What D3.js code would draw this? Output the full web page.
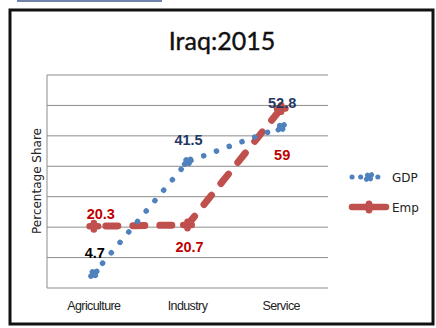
<!DOCTYPE html>
<html><head><meta charset="utf-8">
<script src="https://cdn.jsdelivr.net/npm/d3@7"></script>
<style>body{margin:0;background:#fff}svg{display:block}</style>
</head><body>
<svg id="c" width="436" height="328"></svg>
<script>
const categories = ["Agriculture", "Industry", "Service"];
const gdp = [4.7, 41.5, 52.8];
const emp = [20.3, 20.7, 59];
const yTicks = [0, 10, 20, 30, 40, 50, 60, 70];
const seriesNames = ["GDP", "Emp"];
const title = "Iraq:2015";
const yLabel = "Percentage Share";

const svg = d3.select("#c");
const blue = "#4f81bd", red = "#c0504d";

// top tab bar and frame
svg.append("rect").attr("x",17).attr("y",0).attr("width",145).attr("height",2).attr("fill","#7083ad");
svg.append("rect").attr("x",10).attr("y",10).attr("width",423).attr("height",314)
  .attr("fill","#fff").attr("stroke","#111").attr("stroke-width",3);

const x = d3.scaleBand().domain(categories).range([47, 328]);
const y = d3.scaleLinear().domain([0, 70]).range([288, 75]);
const cx = c => x(c) + x.bandwidth()/2;

// gridlines
svg.append("g").selectAll("line").data(yTicks).join("line")
  .attr("x1",47).attr("x2",328).attr("y1",d=>y(d)).attr("y2",d=>y(d))
  .attr("stroke","#8c8c8c").attr("stroke-width",1);
svg.append("line").attr("x1",47).attr("x2",47).attr("y1",y(70)).attr("y2",y(0)).attr("stroke","#8c8c8c");

// x axis labels
const xa = svg.append("g").attr("transform","translate(0,288)")
  .call(d3.axisBottom(x).tickSize(0).tickPadding(13));
xa.select(".domain").remove();
xa.selectAll("text").attr("font-family","'Liberation Sans', Arial, sans-serif")
  .attr("font-size",12.5).attr("letter-spacing",-0.6).attr("fill","#222");

// title
svg.append("text").attr("x",222).attr("y",50).attr("text-anchor","middle")
  .attr("font-family","Lato, 'Open Sans', sans-serif").attr("font-size",25).attr("fill","#111")
  .attr("stroke","#111").attr("stroke-width",0.4).text(title);

// y label
svg.append("text").attr("transform","translate(41,181) rotate(-90)").attr("text-anchor","middle")
  .attr("font-family","'DejaVu Sans', sans-serif").attr("font-size",12).attr("fill","#222").text(yLabel);

const line = d3.line().x((d,i)=>cx(categories[i])).y(d=>y(d));

// Emp line
svg.append("path").datum(emp).attr("d",line).attr("fill","none").attr("stroke",red)
  .attr("stroke-width",7).attr("stroke-linecap","round").attr("stroke-dasharray","12 15").attr("stroke-dashoffset",-12);
// GDP line
svg.append("path").datum(gdp).attr("d",line).attr("fill","none").attr("stroke",blue)
  .attr("stroke-width",5.5).attr("stroke-linecap","round").attr("stroke-dasharray","0.1 13.5");

function plus(g, px, py, col, w, h, t) {
  g.append("rect").attr("x",px-w/2).attr("y",py-t/2).attr("width",w).attr("height",t).attr("rx",t/2).attr("fill",col);
  g.append("rect").attr("x",px-t/2).attr("y",py-h/2).attr("width",t).attr("height",h).attr("rx",t/2).attr("fill",col);
}
const mk = svg.append("g");
emp.forEach((v,i)=>plus(mk, cx(categories[i]), y(v), red, 15, 13, 6.5));
gdp.forEach((v,i)=>{
  const px = cx(categories[i]), py = y(v);
  mk.append("g").attr("transform",`translate(${px},${py}) rotate(-40)`).call(g=>plus(g,0,0,blue,13,10,5.5));
});

// data labels
const lab = [
  {t:"20.3", x:cx(categories[0])+7, y:219, c:"#c00000"},
  {t:"4.7", x:cx(categories[0])+1, y:258, c:"#000"},
  {t:"41.5", x:cx(categories[1])+1, y:145, c:"#1f3864"},
  {t:"20.7", x:cx(categories[1])+2, y:252, c:"#c00000"},
  {t:"52.8", x:cx(categories[2])+1, y:108, c:"#1f3864"},
  {t:"59", x:cx(categories[2])+1, y:160, c:"#c00000"}
];
svg.append("g").selectAll("text").data(lab).join("text")
  .attr("x",d=>d.x).attr("y",d=>d.y).attr("text-anchor","middle")
  .attr("font-family","'Liberation Sans', Arial, sans-serif").attr("font-weight","bold")
  .attr("font-size",14.5).attr("fill",d=>d.c).text(d=>d.t);

// legend
const lg = svg.append("g");
[[0,blue],[1,red]].forEach(([i,col])=>{
  const ly = 177 + i*30;
  if (i===0) {
    lg.append("line").attr("x1",352).attr("x2",386).attr("y1",ly).attr("y2",ly).attr("stroke",col)
      .attr("stroke-width",5).attr("stroke-linecap","round").attr("stroke-dasharray","0.1 8.5");
    lg.append("g").attr("transform",`translate(369,${ly}) rotate(-40)`).call(g=>plus(g,0,0,col,12,10,5));
  } else {
    lg.append("line").attr("x1",352).attr("x2",386).attr("y1",ly).attr("y2",ly).attr("stroke",col)
      .attr("stroke-width",6.5).attr("stroke-linecap","round");
    plus(lg, 369, ly, col, 14, 13, 6.5);
  }
  lg.append("text").attr("x",392).attr("y",ly+4.5).attr("font-family","'DejaVu Sans', sans-serif")
    .attr("font-size",12).attr("fill","#222").text(seriesNames[i]);
});
</script>
</body></html>
